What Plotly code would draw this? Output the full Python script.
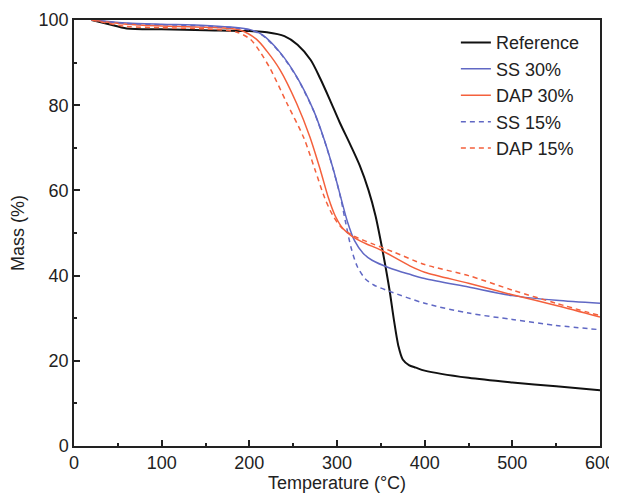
import plotly.graph_objects as go

# TGA curves (temperature in °C, mass in %)
REF_T = [20, 40, 60, 100, 150, 200, 220, 240, 255, 270, 281, 292, 303, 315, 326, 336,
         344, 350, 355, 360, 365, 370, 375, 382, 390, 400, 450, 500, 550, 600]
REF_M = [100, 99, 98, 97.8, 97.6, 97.4, 97.1, 96.2, 94.2, 90.6, 86.2, 81.2, 76, 70.8,
         65.8, 60, 54, 48, 42.5, 36.5, 29.5, 23.5, 20.3, 19.0, 18.4, 17.7, 16, 14.9, 14, 13.1]

SS30_T = [20, 60, 100, 150, 200, 215, 235, 254, 273, 285, 296, 304, 312, 320, 330, 340,
          360, 383, 400, 450, 500, 550, 600]
SS30_M = [100, 99.3, 99, 98.7, 97.8, 96.5, 92.4, 86.7, 78.9, 72.2, 64.8, 58.6, 52.6, 48.2,
          45.2, 43.6, 41.8, 40.3, 39.3, 37.3, 35.3, 34.2, 33.5]

DAP30_T = [20, 60, 100, 150, 190, 208, 220, 235, 254, 269, 281, 290, 298, 307, 318, 332,
           350, 383, 400, 450, 500, 550, 600]
DAP30_M = [100, 99, 98.6, 98.3, 97.6, 95.5, 92.7, 88.3, 80.4, 72.6, 64.8, 58.4, 54, 51,
           49.1, 47.6, 46, 42.3, 40.8, 38.2, 35.5, 33, 30.3]

SS15_T = [20, 60, 100, 150, 200, 215, 235, 254, 273, 285, 296, 304, 310, 316, 323, 332,
          342, 360, 400, 450, 500, 550, 600]
SS15_M = [100, 99.2, 98.9, 98.6, 97.7, 96.4, 92.3, 86.6, 78.8, 72.1, 64.7, 58.4, 52.3,
          46.6, 42.2, 39.3, 37.8, 36.3, 33.5, 31.2, 29.7, 28.3, 27.3]

DAP15_T = [20, 60, 100, 150, 185, 201, 212, 224, 243, 262, 275, 286, 295, 305, 320, 340,
           365, 400, 450, 500, 550, 600]
DAP15_M = [100, 98.5, 98.2, 97.9, 97.2, 95.5, 92.6, 88.5, 80.4, 72.4, 64.8, 58.2, 54.2,
           51.3, 49.2, 47.5, 45.5, 42.6, 40, 36.6, 33.5, 30.6]

BLACK = "#111111"
BLUE = "#6068c4"
RED = "#f4603c"

SERIES = [
    ("Reference", REF_T, REF_M, BLACK, "solid", 2),
    ("SS 30%", SS30_T, SS30_M, BLUE, "solid", 1.5),
    ("DAP 30%", DAP30_T, DAP30_M, RED, "solid", 1.5),
    ("SS 15%", SS15_T, SS15_M, BLUE, "5px,4px", 1.5),
    ("DAP 15%", DAP15_T, DAP15_M, RED, "5px,4px", 1.5),
]

fig = go.Figure()
for name, t, m, color, dash, width in SERIES:
    fig.add_trace(
        go.Scatter(
            x=t,
            y=m,
            mode="lines",
            name=name,
            line=dict(color=color, dash=dash, width=width, shape="spline", smoothing=0.8),
        )
    )

axis_common = dict(
    showline=True,
    linecolor="#222222",
    linewidth=1.5,
    mirror=True,
    ticks="inside",
    ticklen=6,
    tickwidth=1.5,
    tickcolor="#222222",
    showgrid=False,
    zeroline=False,
    automargin=False,
    tickfont=dict(size=18, color="#222222"),
)

fig.update_xaxes(
    range=[0, 600],
    dtick=100,
    minor=dict(ticks="inside", ticklen=3, tickwidth=1.5, tickcolor="#222222", dtick=50),
    title=dict(text="Temperature (°C)", font=dict(size=18, color="#222222"), standoff=3),
    **axis_common,
)
fig.update_yaxes(
    range=[0, 100],
    dtick=20,
    minor=dict(ticks="inside", ticklen=3, tickwidth=1.5, tickcolor="#222222", dtick=10),
    title=dict(text="Mass (%)", font=dict(size=18, color="#222222"), standoff=12),
    **axis_common,
)

# the page adds an 8 px body margin, so the figure is sized to fit what remains
fig.update_layout(
    width=609,
    height=488,
    plot_bgcolor="white",
    paper_bgcolor="white",
    font=dict(family="Liberation Sans, Arial, sans-serif", size=18, color="#222222"),
    margin=dict(l=66, r=17, t=12, b=50),
    legend=dict(
        x=0.726,
        y=0.99,
        xanchor="left",
        yanchor="top",
        bgcolor="rgba(0,0,0,0)",
        font=dict(size=18),
        tracegroupgap=0,
        itemwidth=30,
    ),
)

fig.write_html("out.html")
